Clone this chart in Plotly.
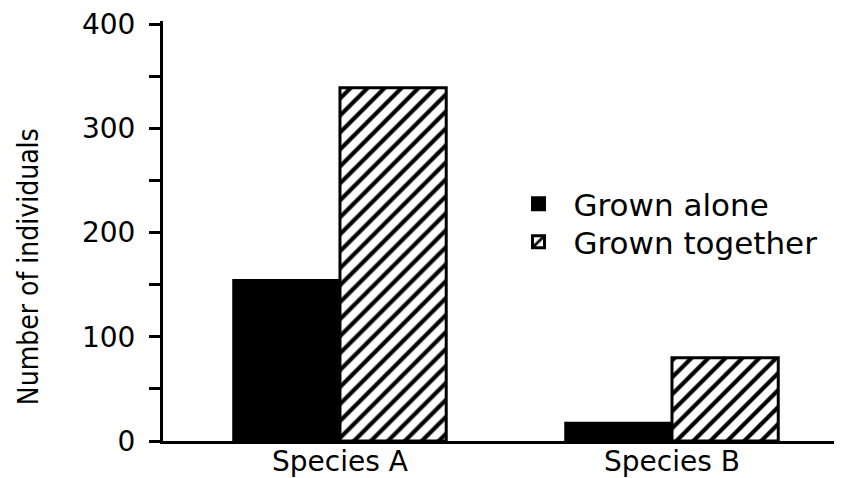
import plotly.graph_objects as go

categories = ["Species A", "Species B"]
grown_alone = [154, 17]
grown_together = [339, 80]
y_ticks = [0, 100, 200, 300, 400]
y_title = "Number of individuals"

fig = go.Figure()
fig.add_trace(go.Bar(
    x=categories, y=grown_alone, name="Grown alone", legend="legend",
    marker=dict(color="black", line=dict(color="black", width=3)),
))
fig.add_trace(go.Bar(
    x=categories, y=grown_together, name="Grown together", legend="legend2",
    marker=dict(color="white", line=dict(color="black", width=3),
                pattern=dict(shape="/", fgcolor="black", bgcolor="white",
                             size=12, solidity=0.35, fillmode="replace", fgopacity=1)),
))

legend_style = dict(xanchor="left", yanchor="middle", font=dict(size=31),
                    bgcolor="rgba(0,0,0,0)", itemwidth=60)

fig.update_layout(
    width=834, height=470,
    margin=dict(l=155, r=0, t=13, b=37, autoexpand=False),
    paper_bgcolor="white", plot_bgcolor="white",
    barmode="group", bargap=0.36, bargroupgap=0,
    font=dict(family="DejaVu Sans, Open Sans, sans-serif", color="black", size=28),
    showlegend=True,
    legend=dict(x=0.5015, y=0.5643, **legend_style),
    legend2=dict(x=0.5015, y=0.4738, **legend_style),
    xaxis=dict(
        range=[-0.533, 1.512], showline=True, linecolor="black", linewidth=3,
        ticks="", showgrid=False, zeroline=False, automargin=False,
        tickfont=dict(size=28), ticklabelstandoff=-7,
    ),
    yaxis=dict(
        range=[0, 403], showline=True, linecolor="black", linewidth=3,
        tickvals=y_ticks, ticks="outside", ticklen=11, tickwidth=3, tickcolor="black",
        minor=dict(dtick=50, tick0=0, ticks="outside", ticklen=11, tickwidth=3, tickcolor="black"),
        showgrid=False, zeroline=False, tickfont=dict(size=28), automargin=False,
        ticklabelstandoff=8, ticklabeloverflow="allow",
    ),
    annotations=[dict(
        text=y_title, textangle=-90, xref="paper", yref="paper",
        x=-0.1988, y=0.414, xanchor="center", yanchor="middle",
        showarrow=False,
        font=dict(family="Liberation Sans Narrow, DejaVu Sans Condensed, Roboto Condensed, Roboto, sans-serif", size=28),
    )],
)

fig.write_html("out.html")
